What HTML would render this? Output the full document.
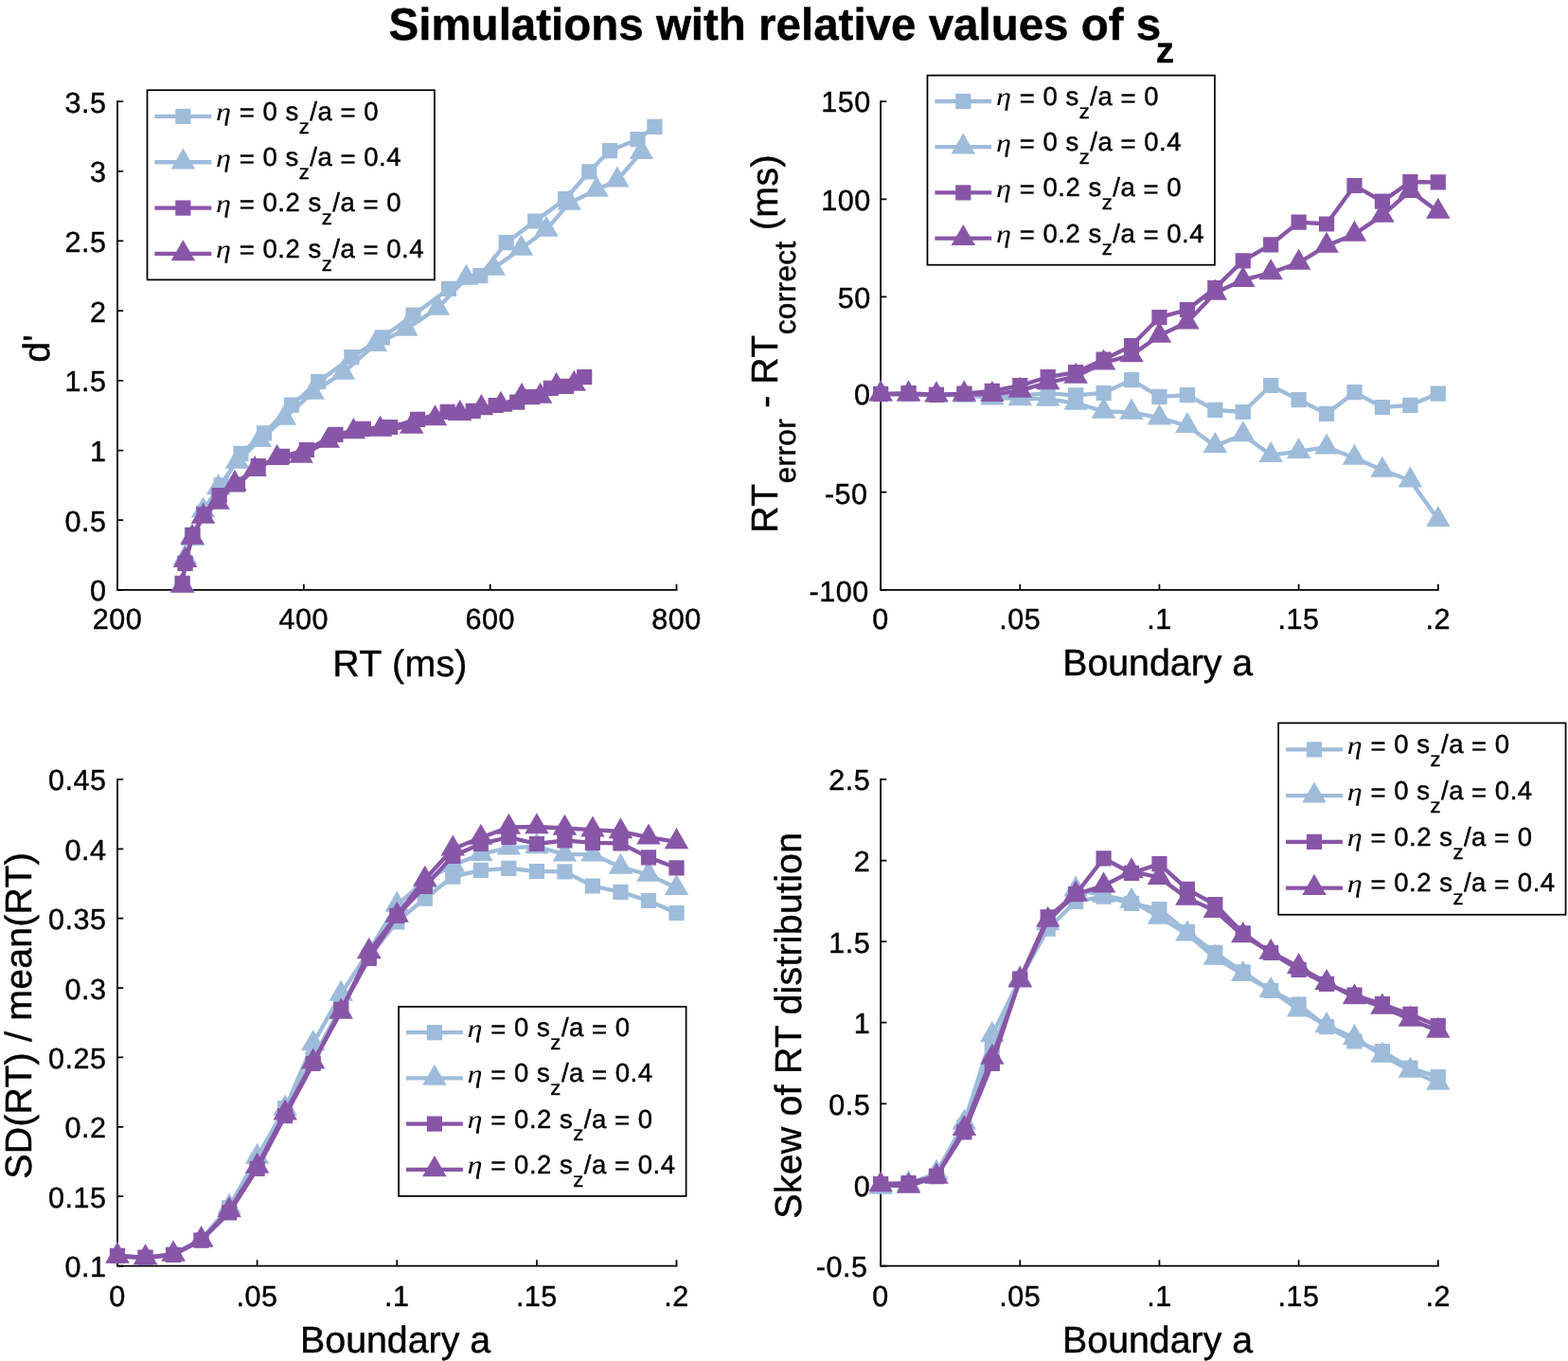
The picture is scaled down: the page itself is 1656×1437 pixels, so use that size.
<!DOCTYPE html>
<html lang="en"><head><meta charset="utf-8"><title>Simulations with relative values of sz</title>
<style>html,body{margin:0;padding:0;background:#fff}body{width:1656px;height:1437px;overflow:hidden}svg{display:block;font-family:"Liberation Sans", sans-serif;text-rendering:geometricPrecision}text{stroke:#000;stroke-width:.45px;stroke-linejoin:round}</style>
</head><body>
<svg width="1656" height="1437" viewBox="0 0 1656 1437">
<rect width="1656" height="1437" fill="#fff"/>
<text x="410.5" y="41.8" font-size="47.5" font-weight="bold" fill="#000">Simulations with relative values of s<tspan font-size="38.48" dy="23.9" dx="-5.4">z</tspan></text>
<g id="p1">
<path d="M124 107.1V622.9H714.5" fill="none" stroke="#000" stroke-width="1.75" stroke-linecap="square"/>
<path d="M124 622.9v-6.2M320.83 622.9v-6.2M517.67 622.9v-6.2M714.5 622.9v-6.2M124 622.9h6.2M124 549.21h6.2M124 475.53h6.2M124 401.84h6.2M124 328.16h6.2M124 254.47h6.2M124 180.79h6.2M124 107.1h6.2" fill="none" stroke="#000" stroke-width="1.75"/>
<g font-size="30.57" fill="#000" letter-spacing="0.5">
<text x="124" y="664.4" text-anchor="middle">200</text>
<text x="320.83" y="664.4" text-anchor="middle">400</text>
<text x="517.67" y="664.4" text-anchor="middle">600</text>
<text x="714.5" y="664.4" text-anchor="middle">800</text>
<text x="112.4" y="634.4" text-anchor="end">0</text>
<text x="112.4" y="560.71" text-anchor="end">0.5</text>
<text x="112.4" y="487.03" text-anchor="end">1</text>
<text x="112.4" y="413.34" text-anchor="end">1.5</text>
<text x="112.4" y="339.66" text-anchor="end">2</text>
<text x="112.4" y="265.97" text-anchor="end">2.5</text>
<text x="112.4" y="192.29" text-anchor="end">3</text>
<text x="112.4" y="118.6" text-anchor="end">3.5</text>
</g>
<path d="M192.6 616.5 L195.2 594.6 L202.9 564.6 L215.2 541.5 L233.6 512.4 L254.5 478.9 L279 457.4 L308 427.7 L336.3 403 L371.4 377.2 L403.9 356.3 L436.5 332.7 L474 304.9 L507.3 291.2 L534.7 256.2 L565.2 233.5 L597.2 210.1 L622.3 181.3 L644 159.1 L673.5 147.2 L691.4 133.9" fill="none" stroke="#9ebcda" stroke-width="4.3" stroke-linejoin="miter" stroke-miterlimit="10"/>
<path d="M184.5 608.4h16.2v16.2h-16.2zM187.1 586.5h16.2v16.2h-16.2zM194.8 556.5h16.2v16.2h-16.2zM207.1 533.4h16.2v16.2h-16.2zM225.5 504.3h16.2v16.2h-16.2zM246.4 470.8h16.2v16.2h-16.2zM270.9 449.3h16.2v16.2h-16.2zM299.9 419.6h16.2v16.2h-16.2zM328.2 394.9h16.2v16.2h-16.2zM363.3 369.1h16.2v16.2h-16.2zM395.8 348.2h16.2v16.2h-16.2zM428.4 324.6h16.2v16.2h-16.2zM465.9 296.8h16.2v16.2h-16.2zM499.2 283.1h16.2v16.2h-16.2zM526.6 248.1h16.2v16.2h-16.2zM557.1 225.4h16.2v16.2h-16.2zM589.1 202h16.2v16.2h-16.2zM614.2 173.2h16.2v16.2h-16.2zM635.9 151h16.2v16.2h-16.2zM665.4 139.1h16.2v16.2h-16.2zM683.3 125.8h16.2v16.2h-16.2z" fill="#9ebcda"/>
<path d="M192.7 618 L195.6 588.8 L203.4 568.7 L214.6 539.2 L230.6 515 L250.5 487.5 L274.3 464.6 L300.4 441.5 L330.2 414.5 L362.5 393.4 L396.3 363.7 L429 347.3 L462.3 325.3 L492.4 293.5 L521.2 283.3 L550.5 262.5 L577 242.5 L601.3 214.4 L630 200.5 L651.9 190.2 L677.5 160.6" fill="none" stroke="#9ebcda" stroke-width="4.3" stroke-linejoin="miter" stroke-miterlimit="10"/>
<path d="M192.7 603.28l12.75 22.08h-25.5zM195.6 574.08l12.75 22.08h-25.5zM203.4 553.98l12.75 22.08h-25.5zM214.6 524.48l12.75 22.08h-25.5zM230.6 500.28l12.75 22.08h-25.5zM250.5 472.78l12.75 22.08h-25.5zM274.3 449.88l12.75 22.08h-25.5zM300.4 426.78l12.75 22.08h-25.5zM330.2 399.78l12.75 22.08h-25.5zM362.5 378.68l12.75 22.08h-25.5zM396.3 348.98l12.75 22.08h-25.5zM429 332.58l12.75 22.08h-25.5zM462.3 310.58l12.75 22.08h-25.5zM492.4 278.78l12.75 22.08h-25.5zM521.2 268.58l12.75 22.08h-25.5zM550.5 247.78l12.75 22.08h-25.5zM577 227.78l12.75 22.08h-25.5zM601.3 199.68l12.75 22.08h-25.5zM630 185.78l12.75 22.08h-25.5zM651.9 175.48l12.75 22.08h-25.5zM677.5 145.88l12.75 22.08h-25.5z" fill="#9ebcda"/>
<path d="M192.6 615.9 L195.6 594.9 L203.5 565 L215.5 543.3 L231.7 523.2 L251 511.5 L272.7 492 L298 481.9 L323.9 475 L354.4 458.8 L383.8 452.8 L412.1 451 L441 442.9 L472.6 434.8 L499.7 433.8 L523.6 428 L546.2 424.7 L562.2 419.2 L581.8 409.8 L598 407.9 L617.2 398.1" fill="none" stroke="#8856a7" stroke-width="4.3" stroke-linejoin="miter" stroke-miterlimit="10"/>
<path d="M184.5 607.8h16.2v16.2h-16.2zM187.5 586.8h16.2v16.2h-16.2zM195.4 556.9h16.2v16.2h-16.2zM207.4 535.2h16.2v16.2h-16.2zM223.6 515.1h16.2v16.2h-16.2zM242.9 503.4h16.2v16.2h-16.2zM264.6 483.9h16.2v16.2h-16.2zM289.9 473.8h16.2v16.2h-16.2zM315.8 466.9h16.2v16.2h-16.2zM346.3 450.7h16.2v16.2h-16.2zM375.7 444.7h16.2v16.2h-16.2zM404 442.9h16.2v16.2h-16.2zM432.9 434.8h16.2v16.2h-16.2zM464.5 426.7h16.2v16.2h-16.2zM491.6 425.7h16.2v16.2h-16.2zM515.5 419.9h16.2v16.2h-16.2zM538.1 416.6h16.2v16.2h-16.2zM554.1 411.1h16.2v16.2h-16.2zM573.7 401.7h16.2v16.2h-16.2zM589.9 399.8h16.2v16.2h-16.2zM609.1 390h16.2v16.2h-16.2z" fill="#8856a7"/>
<path d="M192.7 618.5 L195.5 591.7 L203 567.5 L214.5 545.4 L230 530.4 L248 510.8 L269.2 495.6 L292.6 483.7 L318 481.3 L346.4 465.5 L373.4 455.8 L401.6 453.5 L434.7 450.5 L459.5 442 L485.7 436.6 L508.4 430.8 L528.9 427.5 L551 418.7 L570.6 418.5 L587.6 407.7 L606.3 405.4" fill="none" stroke="#8856a7" stroke-width="4.3" stroke-linejoin="miter" stroke-miterlimit="10"/>
<path d="M192.7 603.78l12.75 22.08h-25.5zM195.5 576.98l12.75 22.08h-25.5zM203 552.78l12.75 22.08h-25.5zM214.5 530.68l12.75 22.08h-25.5zM230 515.68l12.75 22.08h-25.5zM248 496.08l12.75 22.08h-25.5zM269.2 480.88l12.75 22.08h-25.5zM292.6 468.98l12.75 22.08h-25.5zM318 466.58l12.75 22.08h-25.5zM346.4 450.78l12.75 22.08h-25.5zM373.4 441.08l12.75 22.08h-25.5zM401.6 438.78l12.75 22.08h-25.5zM434.7 435.78l12.75 22.08h-25.5zM459.5 427.28l12.75 22.08h-25.5zM485.7 421.88l12.75 22.08h-25.5zM508.4 416.08l12.75 22.08h-25.5zM528.9 412.78l12.75 22.08h-25.5zM551 403.98l12.75 22.08h-25.5zM570.6 403.78l12.75 22.08h-25.5zM587.6 392.98l12.75 22.08h-25.5zM606.3 390.68l12.75 22.08h-25.5z" fill="#8856a7"/>
<rect x="155.5" y="95.2" width="303.4" height="200.2" fill="#fff" stroke="#000" stroke-width="1.75"/>
<path d="M163.4 122.9H223.3" stroke="#9ebcda" stroke-width="4.3" fill="none"/>
<path d="M185.25 114.8h16.2v16.2h-16.2z" fill="#9ebcda"/>
<text transform="translate(228 127.3) scale(1.2 1)" font-family="&quot;Liberation Serif&quot;, &quot;DejaVu Serif&quot;, serif" font-style="italic" font-size="26.9" fill="#000" style="stroke:none">η</text>
<text x="252.8" y="126.8" font-size="27.5" fill="#000" letter-spacing="0.52"><tspan dy="1.6">=</tspan><tspan dy="-1.6"> 0 s</tspan><tspan font-size="22" dy="13.8">z</tspan><tspan dy="-13.8">/a </tspan><tspan dy="1.6">=</tspan><tspan dy="-1.6"> 0</tspan></text>
<path d="M163.4 171.23H223.3" stroke="#9ebcda" stroke-width="4.3" fill="none"/>
<path d="M193.35 156.51l12.75 22.08h-25.5z" fill="#9ebcda"/>
<text transform="translate(228 175.63) scale(1.2 1)" font-family="&quot;Liberation Serif&quot;, &quot;DejaVu Serif&quot;, serif" font-style="italic" font-size="26.9" fill="#000" style="stroke:none">η</text>
<text x="252.8" y="175.13" font-size="27.5" fill="#000" letter-spacing="0.52"><tspan dy="1.6">=</tspan><tspan dy="-1.6"> 0 s</tspan><tspan font-size="22" dy="13.8">z</tspan><tspan dy="-13.8">/a </tspan><tspan dy="1.6">=</tspan><tspan dy="-1.6"> 0.4</tspan></text>
<path d="M163.4 219.56H223.3" stroke="#8856a7" stroke-width="4.3" fill="none"/>
<path d="M185.25 211.46h16.2v16.2h-16.2z" fill="#8856a7"/>
<text transform="translate(228 223.96) scale(1.2 1)" font-family="&quot;Liberation Serif&quot;, &quot;DejaVu Serif&quot;, serif" font-style="italic" font-size="26.9" fill="#000" style="stroke:none">η</text>
<text x="252.8" y="223.46" font-size="27.5" fill="#000" letter-spacing="0.52"><tspan dy="1.6">=</tspan><tspan dy="-1.6"> 0.2 s</tspan><tspan font-size="22" dy="13.8">z</tspan><tspan dy="-13.8">/a </tspan><tspan dy="1.6">=</tspan><tspan dy="-1.6"> 0</tspan></text>
<path d="M163.4 267.89H223.3" stroke="#8856a7" stroke-width="4.3" fill="none"/>
<path d="M193.35 253.17l12.75 22.08h-25.5z" fill="#8856a7"/>
<text transform="translate(228 272.29) scale(1.2 1)" font-family="&quot;Liberation Serif&quot;, &quot;DejaVu Serif&quot;, serif" font-style="italic" font-size="26.9" fill="#000" style="stroke:none">η</text>
<text x="252.8" y="271.79" font-size="27.5" fill="#000" letter-spacing="0.52"><tspan dy="1.6">=</tspan><tspan dy="-1.6"> 0.2 s</tspan><tspan font-size="22" dy="13.8">z</tspan><tspan dy="-13.8">/a </tspan><tspan dy="1.6">=</tspan><tspan dy="-1.6"> 0.4</tspan></text>
<text x="422.5" y="713.8" text-anchor="middle" letter-spacing="0.3" font-size="39.3" fill="#000">RT (ms)</text>
<text transform="translate(51.7 368) rotate(-90)" text-anchor="middle" font-size="39.3" fill="#000">d'</text>
</g>
<g id="p2">
<path d="M930.1 107.1V622.9H1518.8" fill="none" stroke="#000" stroke-width="1.75" stroke-linecap="square"/>
<path d="M930.1 622.9v-6.2M1077.28 622.9v-6.2M1224.45 622.9v-6.2M1371.62 622.9v-6.2M1518.8 622.9v-6.2M930.1 622.9h6.2M930.1 519.74h6.2M930.1 416.58h6.2M930.1 313.42h6.2M930.1 210.26h6.2M930.1 107.1h6.2" fill="none" stroke="#000" stroke-width="1.75"/>
<g font-size="30.57" fill="#000" letter-spacing="0.5">
<text x="930.1" y="664.4" text-anchor="middle">0</text>
<text x="1077.28" y="664.4" text-anchor="middle">.05</text>
<text x="1224.45" y="664.4" text-anchor="middle">.1</text>
<text x="1371.62" y="664.4" text-anchor="middle">.15</text>
<text x="1518.8" y="664.4" text-anchor="middle">.2</text>
<text x="917.7" y="634.8" text-anchor="end">-100</text>
<text x="916.6" y="531.64" text-anchor="end">-50</text>
<text x="919.6" y="427.48" text-anchor="end">0</text>
<text x="919.7" y="324.52" text-anchor="end">50</text>
<text x="919.7" y="221.76" text-anchor="end">100</text>
<text x="919.7" y="118.3" text-anchor="end">150</text>
</g>
<path d="M930.1 416.1 L959.53 416.1 L988.97 416.5 L1018.4 416.5 L1047.84 417 L1077.28 417.5 L1106.71 415.3 L1136.14 417.4 L1165.58 415 L1195.01 401.1 L1224.45 418.8 L1253.88 417.1 L1283.32 432.8 L1312.76 435 L1342.19 407 L1371.62 422.2 L1401.06 436.9 L1430.49 414.2 L1459.93 430 L1489.37 427.9 L1518.8 415.6" fill="none" stroke="#9ebcda" stroke-width="4.3" stroke-linejoin="miter" stroke-miterlimit="10"/>
<path d="M922 408h16.2v16.2h-16.2zM951.43 408h16.2v16.2h-16.2zM980.87 408.4h16.2v16.2h-16.2zM1010.3 408.4h16.2v16.2h-16.2zM1039.74 408.9h16.2v16.2h-16.2zM1069.18 409.4h16.2v16.2h-16.2zM1098.61 407.2h16.2v16.2h-16.2zM1128.05 409.3h16.2v16.2h-16.2zM1157.48 406.9h16.2v16.2h-16.2zM1186.91 393h16.2v16.2h-16.2zM1216.35 410.7h16.2v16.2h-16.2zM1245.79 409h16.2v16.2h-16.2zM1275.22 424.7h16.2v16.2h-16.2zM1304.66 426.9h16.2v16.2h-16.2zM1334.09 398.9h16.2v16.2h-16.2zM1363.53 414.1h16.2v16.2h-16.2zM1392.96 428.8h16.2v16.2h-16.2zM1422.39 406.1h16.2v16.2h-16.2zM1451.83 421.9h16.2v16.2h-16.2zM1481.27 419.8h16.2v16.2h-16.2zM1510.7 407.5h16.2v16.2h-16.2z" fill="#9ebcda"/>
<path d="M930.1 416.1 L959.53 416.3 L988.97 417 L1018.4 417.3 L1047.84 420.2 L1077.28 420.8 L1106.71 421.4 L1136.14 425.5 L1165.58 434.3 L1195.01 435.3 L1224.45 441.2 L1253.88 449.6 L1283.32 470.7 L1312.76 459 L1342.19 480.6 L1371.62 476.6 L1401.06 472.1 L1430.49 483.5 L1459.93 496.3 L1489.37 507.2 L1518.8 548.6" fill="none" stroke="#9ebcda" stroke-width="4.3" stroke-linejoin="miter" stroke-miterlimit="10"/>
<path d="M930.1 401.38l12.75 22.08h-25.5zM959.53 401.58l12.75 22.08h-25.5zM988.97 402.28l12.75 22.08h-25.5zM1018.4 402.58l12.75 22.08h-25.5zM1047.84 405.48l12.75 22.08h-25.5zM1077.28 406.08l12.75 22.08h-25.5zM1106.71 406.68l12.75 22.08h-25.5zM1136.14 410.78l12.75 22.08h-25.5zM1165.58 419.58l12.75 22.08h-25.5zM1195.01 420.58l12.75 22.08h-25.5zM1224.45 426.48l12.75 22.08h-25.5zM1253.88 434.88l12.75 22.08h-25.5zM1283.32 455.98l12.75 22.08h-25.5zM1312.76 444.28l12.75 22.08h-25.5zM1342.19 465.88l12.75 22.08h-25.5zM1371.62 461.88l12.75 22.08h-25.5zM1401.06 457.38l12.75 22.08h-25.5zM1430.49 468.78l12.75 22.08h-25.5zM1459.93 481.58l12.75 22.08h-25.5zM1489.37 492.48l12.75 22.08h-25.5zM1518.8 533.88l12.75 22.08h-25.5z" fill="#9ebcda"/>
<path d="M930.1 415.8 L959.53 415.1 L988.97 416.9 L1018.4 415.7 L1047.84 412.8 L1077.28 407.2 L1106.71 398 L1136.14 393.1 L1165.58 379.7 L1195.01 365.1 L1224.45 335.1 L1253.88 327 L1283.32 304.1 L1312.76 275.3 L1342.19 258.3 L1371.62 234.6 L1401.06 236.5 L1430.49 196 L1459.93 212.7 L1489.37 192 L1518.8 192.4" fill="none" stroke="#8856a7" stroke-width="4.3" stroke-linejoin="miter" stroke-miterlimit="10"/>
<path d="M922 407.7h16.2v16.2h-16.2zM951.43 407h16.2v16.2h-16.2zM980.87 408.8h16.2v16.2h-16.2zM1010.3 407.6h16.2v16.2h-16.2zM1039.74 404.7h16.2v16.2h-16.2zM1069.18 399.1h16.2v16.2h-16.2zM1098.61 389.9h16.2v16.2h-16.2zM1128.05 385h16.2v16.2h-16.2zM1157.48 371.6h16.2v16.2h-16.2zM1186.91 357h16.2v16.2h-16.2zM1216.35 327h16.2v16.2h-16.2zM1245.79 318.9h16.2v16.2h-16.2zM1275.22 296h16.2v16.2h-16.2zM1304.66 267.2h16.2v16.2h-16.2zM1334.09 250.2h16.2v16.2h-16.2zM1363.53 226.5h16.2v16.2h-16.2zM1392.96 228.4h16.2v16.2h-16.2zM1422.39 187.9h16.2v16.2h-16.2zM1451.83 204.6h16.2v16.2h-16.2zM1481.27 183.9h16.2v16.2h-16.2zM1510.7 184.3h16.2v16.2h-16.2z" fill="#8856a7"/>
<path d="M930.1 416.1 L959.53 416.1 L988.97 417.1 L1018.4 416.1 L1047.84 416.6 L1077.28 412.4 L1106.71 404 L1136.14 397.5 L1165.58 383.1 L1195.01 375 L1224.45 354.3 L1253.88 340.2 L1283.32 309.3 L1312.76 295.6 L1342.19 288 L1371.62 277.5 L1401.06 259.4 L1430.49 247.4 L1459.93 227.3 L1489.37 201.6 L1518.8 223.5" fill="none" stroke="#8856a7" stroke-width="4.3" stroke-linejoin="miter" stroke-miterlimit="10"/>
<path d="M930.1 401.38l12.75 22.08h-25.5zM959.53 401.38l12.75 22.08h-25.5zM988.97 402.38l12.75 22.08h-25.5zM1018.4 401.38l12.75 22.08h-25.5zM1047.84 401.88l12.75 22.08h-25.5zM1077.28 397.68l12.75 22.08h-25.5zM1106.71 389.28l12.75 22.08h-25.5zM1136.14 382.78l12.75 22.08h-25.5zM1165.58 368.38l12.75 22.08h-25.5zM1195.01 360.28l12.75 22.08h-25.5zM1224.45 339.58l12.75 22.08h-25.5zM1253.88 325.48l12.75 22.08h-25.5zM1283.32 294.58l12.75 22.08h-25.5zM1312.76 280.88l12.75 22.08h-25.5zM1342.19 273.28l12.75 22.08h-25.5zM1371.62 262.78l12.75 22.08h-25.5zM1401.06 244.68l12.75 22.08h-25.5zM1430.49 232.68l12.75 22.08h-25.5zM1459.93 212.58l12.75 22.08h-25.5zM1489.37 186.88l12.75 22.08h-25.5zM1518.8 208.78l12.75 22.08h-25.5z" fill="#8856a7"/>
<rect x="979.45" y="79.6" width="303.45" height="200.1" fill="#fff" stroke="#000" stroke-width="1.75"/>
<path d="M987.35 107H1047.25" stroke="#9ebcda" stroke-width="4.3" fill="none"/>
<path d="M1009.2 98.9h16.2v16.2h-16.2z" fill="#9ebcda"/>
<text transform="translate(1051.95 111.4) scale(1.2 1)" font-family="&quot;Liberation Serif&quot;, &quot;DejaVu Serif&quot;, serif" font-style="italic" font-size="26.9" fill="#000" style="stroke:none">η</text>
<text x="1076.75" y="110.9" font-size="27.5" fill="#000" letter-spacing="0.52"><tspan dy="1.6">=</tspan><tspan dy="-1.6"> 0 s</tspan><tspan font-size="22" dy="13.8">z</tspan><tspan dy="-13.8">/a </tspan><tspan dy="1.6">=</tspan><tspan dy="-1.6"> 0</tspan></text>
<path d="M987.35 155.2H1047.25" stroke="#9ebcda" stroke-width="4.3" fill="none"/>
<path d="M1017.3 140.48l12.75 22.08h-25.5z" fill="#9ebcda"/>
<text transform="translate(1051.95 159.6) scale(1.2 1)" font-family="&quot;Liberation Serif&quot;, &quot;DejaVu Serif&quot;, serif" font-style="italic" font-size="26.9" fill="#000" style="stroke:none">η</text>
<text x="1076.75" y="159.1" font-size="27.5" fill="#000" letter-spacing="0.52"><tspan dy="1.6">=</tspan><tspan dy="-1.6"> 0 s</tspan><tspan font-size="22" dy="13.8">z</tspan><tspan dy="-13.8">/a </tspan><tspan dy="1.6">=</tspan><tspan dy="-1.6"> 0.4</tspan></text>
<path d="M987.35 203.4H1047.25" stroke="#8856a7" stroke-width="4.3" fill="none"/>
<path d="M1009.2 195.3h16.2v16.2h-16.2z" fill="#8856a7"/>
<text transform="translate(1051.95 207.8) scale(1.2 1)" font-family="&quot;Liberation Serif&quot;, &quot;DejaVu Serif&quot;, serif" font-style="italic" font-size="26.9" fill="#000" style="stroke:none">η</text>
<text x="1076.75" y="207.3" font-size="27.5" fill="#000" letter-spacing="0.52"><tspan dy="1.6">=</tspan><tspan dy="-1.6"> 0.2 s</tspan><tspan font-size="22" dy="13.8">z</tspan><tspan dy="-13.8">/a </tspan><tspan dy="1.6">=</tspan><tspan dy="-1.6"> 0</tspan></text>
<path d="M987.35 251.6H1047.25" stroke="#8856a7" stroke-width="4.3" fill="none"/>
<path d="M1017.3 236.88l12.75 22.08h-25.5z" fill="#8856a7"/>
<text transform="translate(1051.95 256) scale(1.2 1)" font-family="&quot;Liberation Serif&quot;, &quot;DejaVu Serif&quot;, serif" font-style="italic" font-size="26.9" fill="#000" style="stroke:none">η</text>
<text x="1076.75" y="255.5" font-size="27.5" fill="#000" letter-spacing="0.52"><tspan dy="1.6">=</tspan><tspan dy="-1.6"> 0.2 s</tspan><tspan font-size="22" dy="13.8">z</tspan><tspan dy="-13.8">/a </tspan><tspan dy="1.6">=</tspan><tspan dy="-1.6"> 0.4</tspan></text>
<text x="1222.7" y="713.4" text-anchor="middle" font-size="39.3" fill="#000">Boundary a</text>
<text transform="translate(821.1 362.9) rotate(-90)" text-anchor="middle" letter-spacing="0.4" font-size="39.3" fill="#000">RT<tspan font-size="31.44" dy="19.3">error</tspan><tspan dy="-19.3"> - RT</tspan><tspan font-size="31.44" dy="19.3">correct</tspan><tspan dy="-19.3"> (ms)</tspan></text>
</g>
<g id="p3">
<path d="M124 822.9V1336.5H714.5" fill="none" stroke="#000" stroke-width="1.75" stroke-linecap="square"/>
<path d="M124 1336.5v-6.2M271.62 1336.5v-6.2M419.25 1336.5v-6.2M566.88 1336.5v-6.2M714.5 1336.5v-6.2M124 1336.5h6.2M124 1263.13h6.2M124 1189.76h6.2M124 1116.39h6.2M124 1043.01h6.2M124 969.64h6.2M124 896.27h6.2M124 822.9h6.2" fill="none" stroke="#000" stroke-width="1.75"/>
<g font-size="30.57" fill="#000" letter-spacing="0.5">
<text x="124" y="1378.6" text-anchor="middle">0</text>
<text x="271.62" y="1378.6" text-anchor="middle">.05</text>
<text x="419.25" y="1378.6" text-anchor="middle">.1</text>
<text x="566.88" y="1378.6" text-anchor="middle">.15</text>
<text x="714.5" y="1378.6" text-anchor="middle">.2</text>
<text x="112.4" y="1348" text-anchor="end">0.1</text>
<text x="112.4" y="1274.63" text-anchor="end">0.15</text>
<text x="112.4" y="1201.26" text-anchor="end">0.2</text>
<text x="112.4" y="1127.89" text-anchor="end">0.25</text>
<text x="112.4" y="1054.51" text-anchor="end">0.3</text>
<text x="112.4" y="981.14" text-anchor="end">0.35</text>
<text x="112.4" y="907.77" text-anchor="end">0.4</text>
<text x="112.4" y="834.4" text-anchor="end">0.45</text>
</g>
<path d="M124 1326 L153.53 1328 L183.05 1325 L212.57 1309.5 L242.1 1275.4 L271.62 1227.2 L301.15 1170 L330.68 1117.6 L360.2 1063 L389.73 1010 L419.25 973.3 L448.77 948.7 L478.3 925.6 L507.82 918.8 L537.35 916.9 L566.88 920 L596.4 920.4 L625.92 935.5 L655.45 941.9 L684.98 951 L714.5 964" fill="none" stroke="#9ebcda" stroke-width="4.3" stroke-linejoin="miter" stroke-miterlimit="10"/>
<path d="M115.9 1317.9h16.2v16.2h-16.2zM145.43 1319.9h16.2v16.2h-16.2zM174.95 1316.9h16.2v16.2h-16.2zM204.47 1301.4h16.2v16.2h-16.2zM234 1267.3h16.2v16.2h-16.2zM263.52 1219.1h16.2v16.2h-16.2zM293.05 1161.9h16.2v16.2h-16.2zM322.57 1109.5h16.2v16.2h-16.2zM352.1 1054.9h16.2v16.2h-16.2zM381.62 1001.9h16.2v16.2h-16.2zM411.15 965.2h16.2v16.2h-16.2zM440.67 940.6h16.2v16.2h-16.2zM470.2 917.5h16.2v16.2h-16.2zM499.72 910.7h16.2v16.2h-16.2zM529.25 908.8h16.2v16.2h-16.2zM558.77 911.9h16.2v16.2h-16.2zM588.3 912.3h16.2v16.2h-16.2zM617.82 927.4h16.2v16.2h-16.2zM647.35 933.8h16.2v16.2h-16.2zM676.88 942.9h16.2v16.2h-16.2zM706.4 955.9h16.2v16.2h-16.2z" fill="#9ebcda"/>
<path d="M124 1326 L153.53 1328 L183.05 1324 L212.57 1308.5 L242.1 1274.3 L271.62 1221.4 L301.15 1170.3 L330.68 1102 L360.2 1049.5 L389.73 1004 L419.25 955.5 L448.77 930 L478.3 913.4 L507.82 901.7 L537.35 895.2 L566.88 893.8 L596.4 902.1 L625.92 902.1 L655.45 915.5 L684.98 923.4 L714.5 937.7" fill="none" stroke="#9ebcda" stroke-width="4.3" stroke-linejoin="miter" stroke-miterlimit="10"/>
<path d="M124 1311.28l12.75 22.08h-25.5zM153.53 1313.28l12.75 22.08h-25.5zM183.05 1309.28l12.75 22.08h-25.5zM212.57 1293.78l12.75 22.08h-25.5zM242.1 1259.58l12.75 22.08h-25.5zM271.62 1206.68l12.75 22.08h-25.5zM301.15 1155.58l12.75 22.08h-25.5zM330.68 1087.28l12.75 22.08h-25.5zM360.2 1034.78l12.75 22.08h-25.5zM389.73 989.28l12.75 22.08h-25.5zM419.25 940.78l12.75 22.08h-25.5zM448.77 915.28l12.75 22.08h-25.5zM478.3 898.68l12.75 22.08h-25.5zM507.82 886.98l12.75 22.08h-25.5zM537.35 880.48l12.75 22.08h-25.5zM566.88 879.08l12.75 22.08h-25.5zM596.4 887.38l12.75 22.08h-25.5zM625.92 887.38l12.75 22.08h-25.5zM655.45 900.78l12.75 22.08h-25.5zM684.98 908.68l12.75 22.08h-25.5zM714.5 922.98l12.75 22.08h-25.5z" fill="#9ebcda"/>
<path d="M124 1325.9 L153.53 1327.7 L183.05 1324.9 L212.57 1309.6 L242.1 1280.4 L271.62 1234 L301.15 1178.1 L330.68 1123 L360.2 1065.8 L389.73 1011.9 L419.25 966.8 L448.77 936 L478.3 903.9 L507.82 891 L537.35 883.9 L566.88 891 L596.4 887.4 L625.92 889.9 L655.45 890.4 L684.98 905.3 L714.5 916.3" fill="none" stroke="#8856a7" stroke-width="4.3" stroke-linejoin="miter" stroke-miterlimit="10"/>
<path d="M115.9 1317.8h16.2v16.2h-16.2zM145.43 1319.6h16.2v16.2h-16.2zM174.95 1316.8h16.2v16.2h-16.2zM204.47 1301.5h16.2v16.2h-16.2zM234 1272.3h16.2v16.2h-16.2zM263.52 1225.9h16.2v16.2h-16.2zM293.05 1170h16.2v16.2h-16.2zM322.57 1114.9h16.2v16.2h-16.2zM352.1 1057.7h16.2v16.2h-16.2zM381.62 1003.8h16.2v16.2h-16.2zM411.15 958.7h16.2v16.2h-16.2zM440.67 927.9h16.2v16.2h-16.2zM470.2 895.8h16.2v16.2h-16.2zM499.72 882.9h16.2v16.2h-16.2zM529.25 875.8h16.2v16.2h-16.2zM558.77 882.9h16.2v16.2h-16.2zM588.3 879.3h16.2v16.2h-16.2zM617.82 881.8h16.2v16.2h-16.2zM647.35 882.3h16.2v16.2h-16.2zM676.88 897.2h16.2v16.2h-16.2zM706.4 908.2h16.2v16.2h-16.2z" fill="#8856a7"/>
<path d="M124 1326.3 L153.53 1328 L183.05 1324.5 L212.57 1309.3 L242.1 1277.9 L271.62 1231.5 L301.15 1175.1 L330.68 1121.1 L360.2 1068.3 L389.73 1005 L419.25 966.4 L448.77 928.4 L478.3 896.2 L507.82 884.5 L537.35 873.4 L566.88 873 L596.4 874.5 L625.92 876.2 L655.45 878 L684.98 884.2 L714.5 888.8" fill="none" stroke="#8856a7" stroke-width="4.3" stroke-linejoin="miter" stroke-miterlimit="10"/>
<path d="M124 1311.58l12.75 22.08h-25.5zM153.53 1313.28l12.75 22.08h-25.5zM183.05 1309.78l12.75 22.08h-25.5zM212.57 1294.58l12.75 22.08h-25.5zM242.1 1263.18l12.75 22.08h-25.5zM271.62 1216.78l12.75 22.08h-25.5zM301.15 1160.38l12.75 22.08h-25.5zM330.68 1106.38l12.75 22.08h-25.5zM360.2 1053.58l12.75 22.08h-25.5zM389.73 990.28l12.75 22.08h-25.5zM419.25 951.68l12.75 22.08h-25.5zM448.77 913.68l12.75 22.08h-25.5zM478.3 881.48l12.75 22.08h-25.5zM507.82 869.78l12.75 22.08h-25.5zM537.35 858.68l12.75 22.08h-25.5zM566.88 858.28l12.75 22.08h-25.5zM596.4 859.78l12.75 22.08h-25.5zM625.92 861.48l12.75 22.08h-25.5zM655.45 863.28l12.75 22.08h-25.5zM684.98 869.48l12.75 22.08h-25.5zM714.5 874.08l12.75 22.08h-25.5z" fill="#8856a7"/>
<rect x="421.05" y="1062.9" width="303.55" height="200" fill="#fff" stroke="#000" stroke-width="1.75"/>
<path d="M428.95 1090.2H488.85" stroke="#9ebcda" stroke-width="4.3" fill="none"/>
<path d="M450.8 1082.1h16.2v16.2h-16.2z" fill="#9ebcda"/>
<text transform="translate(493.55 1094.6) scale(1.2 1)" font-family="&quot;Liberation Serif&quot;, &quot;DejaVu Serif&quot;, serif" font-style="italic" font-size="26.9" fill="#000" style="stroke:none">η</text>
<text x="518.35" y="1094.1" font-size="27.5" fill="#000" letter-spacing="0.52"><tspan dy="1.6">=</tspan><tspan dy="-1.6"> 0 s</tspan><tspan font-size="22" dy="13.8">z</tspan><tspan dy="-13.8">/a </tspan><tspan dy="1.6">=</tspan><tspan dy="-1.6"> 0</tspan></text>
<path d="M428.95 1138.4H488.85" stroke="#9ebcda" stroke-width="4.3" fill="none"/>
<path d="M458.9 1123.68l12.75 22.08h-25.5z" fill="#9ebcda"/>
<text transform="translate(493.55 1142.8) scale(1.2 1)" font-family="&quot;Liberation Serif&quot;, &quot;DejaVu Serif&quot;, serif" font-style="italic" font-size="26.9" fill="#000" style="stroke:none">η</text>
<text x="518.35" y="1142.3" font-size="27.5" fill="#000" letter-spacing="0.52"><tspan dy="1.6">=</tspan><tspan dy="-1.6"> 0 s</tspan><tspan font-size="22" dy="13.8">z</tspan><tspan dy="-13.8">/a </tspan><tspan dy="1.6">=</tspan><tspan dy="-1.6"> 0.4</tspan></text>
<path d="M428.95 1186.6H488.85" stroke="#8856a7" stroke-width="4.3" fill="none"/>
<path d="M450.8 1178.5h16.2v16.2h-16.2z" fill="#8856a7"/>
<text transform="translate(493.55 1191) scale(1.2 1)" font-family="&quot;Liberation Serif&quot;, &quot;DejaVu Serif&quot;, serif" font-style="italic" font-size="26.9" fill="#000" style="stroke:none">η</text>
<text x="518.35" y="1190.5" font-size="27.5" fill="#000" letter-spacing="0.52"><tspan dy="1.6">=</tspan><tspan dy="-1.6"> 0.2 s</tspan><tspan font-size="22" dy="13.8">z</tspan><tspan dy="-13.8">/a </tspan><tspan dy="1.6">=</tspan><tspan dy="-1.6"> 0</tspan></text>
<path d="M428.95 1234.8H488.85" stroke="#8856a7" stroke-width="4.3" fill="none"/>
<path d="M458.9 1220.08l12.75 22.08h-25.5z" fill="#8856a7"/>
<text transform="translate(493.55 1239.2) scale(1.2 1)" font-family="&quot;Liberation Serif&quot;, &quot;DejaVu Serif&quot;, serif" font-style="italic" font-size="26.9" fill="#000" style="stroke:none">η</text>
<text x="518.35" y="1238.7" font-size="27.5" fill="#000" letter-spacing="0.52"><tspan dy="1.6">=</tspan><tspan dy="-1.6"> 0.2 s</tspan><tspan font-size="22" dy="13.8">z</tspan><tspan dy="-13.8">/a </tspan><tspan dy="1.6">=</tspan><tspan dy="-1.6"> 0.4</tspan></text>
<text x="417.6" y="1427.8" text-anchor="middle" font-size="39.3" fill="#000">Boundary a</text>
<text transform="translate(33 1072.4) rotate(-90)" text-anchor="middle" letter-spacing="0.2" font-size="39.3" fill="#000">SD(RT) / mean(RT)</text>
</g>
<g id="p4">
<path d="M930.1 822.9V1336.5H1518.8" fill="none" stroke="#000" stroke-width="1.75" stroke-linecap="square"/>
<path d="M930.1 1336.5v-6.2M1077.28 1336.5v-6.2M1224.45 1336.5v-6.2M1371.62 1336.5v-6.2M1518.8 1336.5v-6.2M930.1 1336.5h6.2M930.1 1250.9h6.2M930.1 1165.3h6.2M930.1 1079.7h6.2M930.1 994.1h6.2M930.1 908.5h6.2M930.1 822.9h6.2" fill="none" stroke="#000" stroke-width="1.75"/>
<g font-size="30.57" fill="#000" letter-spacing="0.5">
<text x="930.1" y="1378.7" text-anchor="middle">0</text>
<text x="1077.28" y="1378.7" text-anchor="middle">.05</text>
<text x="1224.45" y="1378.7" text-anchor="middle">.1</text>
<text x="1371.62" y="1378.7" text-anchor="middle">.15</text>
<text x="1518.8" y="1378.7" text-anchor="middle">.2</text>
<text x="916.5" y="1347.7" text-anchor="end">-0.5</text>
<text x="919.2" y="1262.9" text-anchor="end">0</text>
<text x="919.2" y="1176.8" text-anchor="end">0.5</text>
<text x="919.2" y="1091.2" text-anchor="end">1</text>
<text x="919.2" y="1005.6" text-anchor="end">1.5</text>
<text x="919.2" y="920" text-anchor="end">2</text>
<text x="919.2" y="834.4" text-anchor="end">2.5</text>
</g>
<path d="M930.1 1251 L959.53 1250.5 L988.97 1241 L1018.4 1190 L1047.84 1107.6 L1077.28 1033.5 L1106.71 980.7 L1136.14 951.8 L1165.58 946.6 L1195.01 953.9 L1224.45 960 L1253.88 984 L1283.32 1005.9 L1312.76 1026.3 L1342.19 1046 L1371.62 1060.5 L1401.06 1084.1 L1430.49 1099.5 L1459.93 1110 L1489.37 1127.7 L1518.8 1137" fill="none" stroke="#9ebcda" stroke-width="4.3" stroke-linejoin="miter" stroke-miterlimit="10"/>
<path d="M922 1242.9h16.2v16.2h-16.2zM951.43 1242.4h16.2v16.2h-16.2zM980.87 1232.9h16.2v16.2h-16.2zM1010.3 1181.9h16.2v16.2h-16.2zM1039.74 1099.5h16.2v16.2h-16.2zM1069.18 1025.4h16.2v16.2h-16.2zM1098.61 972.6h16.2v16.2h-16.2zM1128.05 943.7h16.2v16.2h-16.2zM1157.48 938.5h16.2v16.2h-16.2zM1186.91 945.8h16.2v16.2h-16.2zM1216.35 951.9h16.2v16.2h-16.2zM1245.79 975.9h16.2v16.2h-16.2zM1275.22 997.8h16.2v16.2h-16.2zM1304.66 1018.2h16.2v16.2h-16.2zM1334.09 1037.9h16.2v16.2h-16.2zM1363.53 1052.4h16.2v16.2h-16.2zM1392.96 1076h16.2v16.2h-16.2zM1422.39 1091.4h16.2v16.2h-16.2zM1451.83 1101.9h16.2v16.2h-16.2zM1481.27 1119.6h16.2v16.2h-16.2zM1510.7 1128.9h16.2v16.2h-16.2z" fill="#9ebcda"/>
<path d="M930.1 1253.5 L959.53 1250.2 L988.97 1238.4 L1018.4 1185.2 L1047.84 1092.8 L1077.28 1033.4 L1106.71 974.8 L1136.14 939.2 L1165.58 945.4 L1195.01 951.5 L1224.45 968.3 L1253.88 986.2 L1283.32 1011.5 L1312.76 1028.7 L1342.19 1045.6 L1371.62 1066.1 L1401.06 1082.8 L1430.49 1095.8 L1459.93 1114.4 L1489.37 1130.4 L1518.8 1143.4" fill="none" stroke="#9ebcda" stroke-width="4.3" stroke-linejoin="miter" stroke-miterlimit="10"/>
<path d="M930.1 1238.78l12.75 22.08h-25.5zM959.53 1235.48l12.75 22.08h-25.5zM988.97 1223.68l12.75 22.08h-25.5zM1018.4 1170.48l12.75 22.08h-25.5zM1047.84 1078.08l12.75 22.08h-25.5zM1077.28 1018.68l12.75 22.08h-25.5zM1106.71 960.08l12.75 22.08h-25.5zM1136.14 924.48l12.75 22.08h-25.5zM1165.58 930.68l12.75 22.08h-25.5zM1195.01 936.78l12.75 22.08h-25.5zM1224.45 953.58l12.75 22.08h-25.5zM1253.88 971.48l12.75 22.08h-25.5zM1283.32 996.78l12.75 22.08h-25.5zM1312.76 1013.98l12.75 22.08h-25.5zM1342.19 1030.88l12.75 22.08h-25.5zM1371.62 1051.38l12.75 22.08h-25.5zM1401.06 1068.08l12.75 22.08h-25.5zM1430.49 1081.08l12.75 22.08h-25.5zM1459.93 1099.68l12.75 22.08h-25.5zM1489.37 1115.68l12.75 22.08h-25.5zM1518.8 1128.68l12.75 22.08h-25.5z" fill="#9ebcda"/>
<path d="M930.1 1250 L959.53 1249.1 L988.97 1242.1 L1018.4 1195.3 L1047.84 1122.9 L1077.28 1033.7 L1106.71 968.3 L1136.14 944.2 L1165.58 906.3 L1195.01 921.9 L1224.45 912.1 L1253.88 938.9 L1283.32 955.1 L1312.76 985.3 L1342.19 1006 L1371.62 1023.8 L1401.06 1038.9 L1430.49 1050.5 L1459.93 1060.2 L1489.37 1070.9 L1518.8 1083.2" fill="none" stroke="#8856a7" stroke-width="4.3" stroke-linejoin="miter" stroke-miterlimit="10"/>
<path d="M922 1241.9h16.2v16.2h-16.2zM951.43 1241h16.2v16.2h-16.2zM980.87 1234h16.2v16.2h-16.2zM1010.3 1187.2h16.2v16.2h-16.2zM1039.74 1114.8h16.2v16.2h-16.2zM1069.18 1025.6h16.2v16.2h-16.2zM1098.61 960.2h16.2v16.2h-16.2zM1128.05 936.1h16.2v16.2h-16.2zM1157.48 898.2h16.2v16.2h-16.2zM1186.91 913.8h16.2v16.2h-16.2zM1216.35 904h16.2v16.2h-16.2zM1245.79 930.8h16.2v16.2h-16.2zM1275.22 947h16.2v16.2h-16.2zM1304.66 977.2h16.2v16.2h-16.2zM1334.09 997.9h16.2v16.2h-16.2zM1363.53 1015.7h16.2v16.2h-16.2zM1392.96 1030.8h16.2v16.2h-16.2zM1422.39 1042.4h16.2v16.2h-16.2zM1451.83 1052.1h16.2v16.2h-16.2zM1481.27 1062.8h16.2v16.2h-16.2zM1510.7 1075.1h16.2v16.2h-16.2z" fill="#8856a7"/>
<path d="M930.1 1251 L959.53 1252.4 L988.97 1242.4 L1018.4 1191.6 L1047.84 1116.4 L1077.28 1035.2 L1106.71 971.4 L1136.14 944.2 L1165.58 935.2 L1195.01 920 L1224.45 926.6 L1253.88 948.3 L1283.32 961.6 L1312.76 987.8 L1342.19 1005.4 L1371.62 1020.8 L1401.06 1037.7 L1430.49 1052.9 L1459.93 1063.3 L1489.37 1076.3 L1518.8 1088.4" fill="none" stroke="#8856a7" stroke-width="4.3" stroke-linejoin="miter" stroke-miterlimit="10"/>
<path d="M930.1 1236.28l12.75 22.08h-25.5zM959.53 1237.68l12.75 22.08h-25.5zM988.97 1227.68l12.75 22.08h-25.5zM1018.4 1176.88l12.75 22.08h-25.5zM1047.84 1101.68l12.75 22.08h-25.5zM1077.28 1020.48l12.75 22.08h-25.5zM1106.71 956.68l12.75 22.08h-25.5zM1136.14 929.48l12.75 22.08h-25.5zM1165.58 920.48l12.75 22.08h-25.5zM1195.01 905.28l12.75 22.08h-25.5zM1224.45 911.88l12.75 22.08h-25.5zM1253.88 933.58l12.75 22.08h-25.5zM1283.32 946.88l12.75 22.08h-25.5zM1312.76 973.08l12.75 22.08h-25.5zM1342.19 990.68l12.75 22.08h-25.5zM1371.62 1006.08l12.75 22.08h-25.5zM1401.06 1022.98l12.75 22.08h-25.5zM1430.49 1038.18l12.75 22.08h-25.5zM1459.93 1048.58l12.75 22.08h-25.5zM1489.37 1061.58l12.75 22.08h-25.5zM1518.8 1073.68l12.75 22.08h-25.5z" fill="#8856a7"/>
<rect x="1350.15" y="763.4" width="303.4" height="202.35" fill="#fff" stroke="#000" stroke-width="1.75"/>
<path d="M1358.05 791.4H1417.95" stroke="#9ebcda" stroke-width="4.3" fill="none"/>
<path d="M1379.9 783.3h16.2v16.2h-16.2z" fill="#9ebcda"/>
<text transform="translate(1422.65 795.8) scale(1.2 1)" font-family="&quot;Liberation Serif&quot;, &quot;DejaVu Serif&quot;, serif" font-style="italic" font-size="26.9" fill="#000" style="stroke:none">η</text>
<text x="1447.45" y="795.3" font-size="27.5" fill="#000" letter-spacing="0.52"><tspan dy="1.6">=</tspan><tspan dy="-1.6"> 0 s</tspan><tspan font-size="22" dy="13.8">z</tspan><tspan dy="-13.8">/a </tspan><tspan dy="1.6">=</tspan><tspan dy="-1.6"> 0</tspan></text>
<path d="M1358.05 840.13H1417.95" stroke="#9ebcda" stroke-width="4.3" fill="none"/>
<path d="M1388 825.41l12.75 22.08h-25.5z" fill="#9ebcda"/>
<text transform="translate(1422.65 844.53) scale(1.2 1)" font-family="&quot;Liberation Serif&quot;, &quot;DejaVu Serif&quot;, serif" font-style="italic" font-size="26.9" fill="#000" style="stroke:none">η</text>
<text x="1447.45" y="844.03" font-size="27.5" fill="#000" letter-spacing="0.52"><tspan dy="1.6">=</tspan><tspan dy="-1.6"> 0 s</tspan><tspan font-size="22" dy="13.8">z</tspan><tspan dy="-13.8">/a </tspan><tspan dy="1.6">=</tspan><tspan dy="-1.6"> 0.4</tspan></text>
<path d="M1358.05 888.86H1417.95" stroke="#8856a7" stroke-width="4.3" fill="none"/>
<path d="M1379.9 880.76h16.2v16.2h-16.2z" fill="#8856a7"/>
<text transform="translate(1422.65 893.26) scale(1.2 1)" font-family="&quot;Liberation Serif&quot;, &quot;DejaVu Serif&quot;, serif" font-style="italic" font-size="26.9" fill="#000" style="stroke:none">η</text>
<text x="1447.45" y="892.76" font-size="27.5" fill="#000" letter-spacing="0.52"><tspan dy="1.6">=</tspan><tspan dy="-1.6"> 0.2 s</tspan><tspan font-size="22" dy="13.8">z</tspan><tspan dy="-13.8">/a </tspan><tspan dy="1.6">=</tspan><tspan dy="-1.6"> 0</tspan></text>
<path d="M1358.05 937.59H1417.95" stroke="#8856a7" stroke-width="4.3" fill="none"/>
<path d="M1388 922.87l12.75 22.08h-25.5z" fill="#8856a7"/>
<text transform="translate(1422.65 941.99) scale(1.2 1)" font-family="&quot;Liberation Serif&quot;, &quot;DejaVu Serif&quot;, serif" font-style="italic" font-size="26.9" fill="#000" style="stroke:none">η</text>
<text x="1447.45" y="941.49" font-size="27.5" fill="#000" letter-spacing="0.52"><tspan dy="1.6">=</tspan><tspan dy="-1.6"> 0.2 s</tspan><tspan font-size="22" dy="13.8">z</tspan><tspan dy="-13.8">/a </tspan><tspan dy="1.6">=</tspan><tspan dy="-1.6"> 0.4</tspan></text>
<text x="1222.6" y="1427.8" text-anchor="middle" font-size="39.3" fill="#000">Boundary a</text>
<text transform="translate(846 1082.7) rotate(-90)" text-anchor="middle" letter-spacing="0.23" font-size="39.3" fill="#000">Skew of RT distribution</text>
</g>
</svg></body></html>
